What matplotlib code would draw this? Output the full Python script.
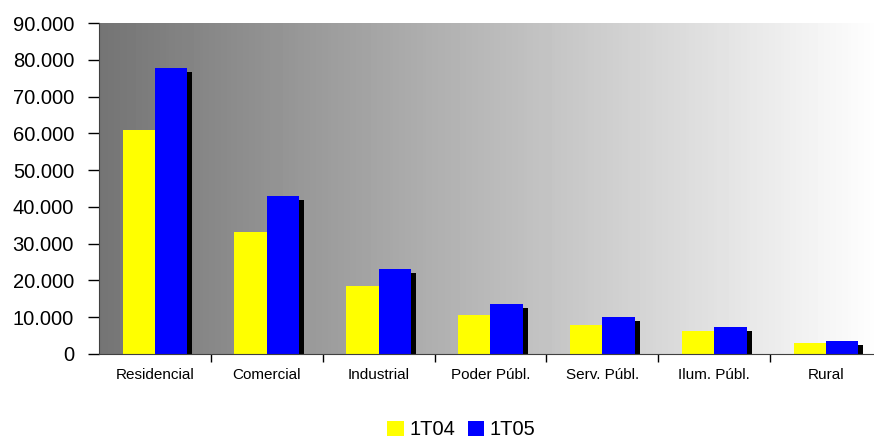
import numpy as np
import matplotlib.pyplot as plt
import matplotlib.patheffects as pe
from matplotlib.patches import Patch
from matplotlib.ticker import FuncFormatter, FixedLocator

plt.rcParams['font.family'] = ['Liberation Sans', 'DejaVu Sans']

categories = ["Residencial", "Comercial", "Industrial", "Poder Públ.",
              "Serv. Públ.", "Ilum. Públ.", "Rural"]
series_names = ["1T04", "1T05"]
values_1t04 = [61000, 33200, 18500, 10600, 7900, 6300, 3000]
values_1t05 = [77800, 43000, 23100, 13600, 10100, 7300, 3500]
colors = ["#ffff00", "#0000ff"]

fig = plt.figure(figsize=(8.74, 4.41), dpi=100)
ax = fig.add_axes([0.1133, 0.1973, 0.8957, 0.7505])

x = np.arange(len(categories))
width = 0.29

# grey-to-white gradient behind the bars
grad = np.linspace(0.455, 1.0, 256).reshape(1, -1)
ax.imshow(grad, cmap="gray", vmin=0, vmax=1, aspect="auto",
          extent=(-0.5, len(categories) - 0.5, 0, 90000), zorder=0)

shadow = [pe.SimplePatchShadow(offset=(3.6, -2.9), shadow_rgbFace="black", alpha=1.0),
          pe.Normal()]
for vals, col, off in zip([values_1t04, values_1t05], colors, [-width / 2, width / 2]):
    ax.bar(x + off, vals, width, color=col, zorder=2, path_effects=shadow, linewidth=0)

ax.set_xlim(-0.5, len(categories) - 0.5)
ax.set_ylim(0, 90000)
ax.set_yticks(np.arange(0, 90001, 10000))
ax.yaxis.set_major_formatter(FuncFormatter(lambda v, p: f"{int(v):,}".replace(",", ".")))
ax.tick_params(axis="y", labelsize=14.5, length=8, width=1, direction="out", pad=10)

ax.set_xticks(x)
ax.set_xticklabels(categories)
ax.xaxis.set_minor_locator(FixedLocator(np.arange(0.5, len(categories) - 0.5, 1)))
ax.tick_params(axis="x", which="major", length=0, labelsize=11, pad=10)
ax.tick_params(axis="x", which="minor", length=6, width=1, direction="out")

for s in ["top", "right"]:
    ax.spines[s].set_visible(False)
ax.spines["left"].set_color("#404040")
ax.spines["bottom"].set_color("#404040")

handles = [Patch(facecolor=c, linewidth=0) for c in colors]
fig.legend(handles, series_names, loc="center", bbox_to_anchor=(0.528, 0.025),
           ncol=2, frameon=False, fontsize=14.5, handlelength=0.8, handleheight=0.8,
           handletextpad=0.3, columnspacing=0.6)

fig.savefig("out.png", dpi=100)
